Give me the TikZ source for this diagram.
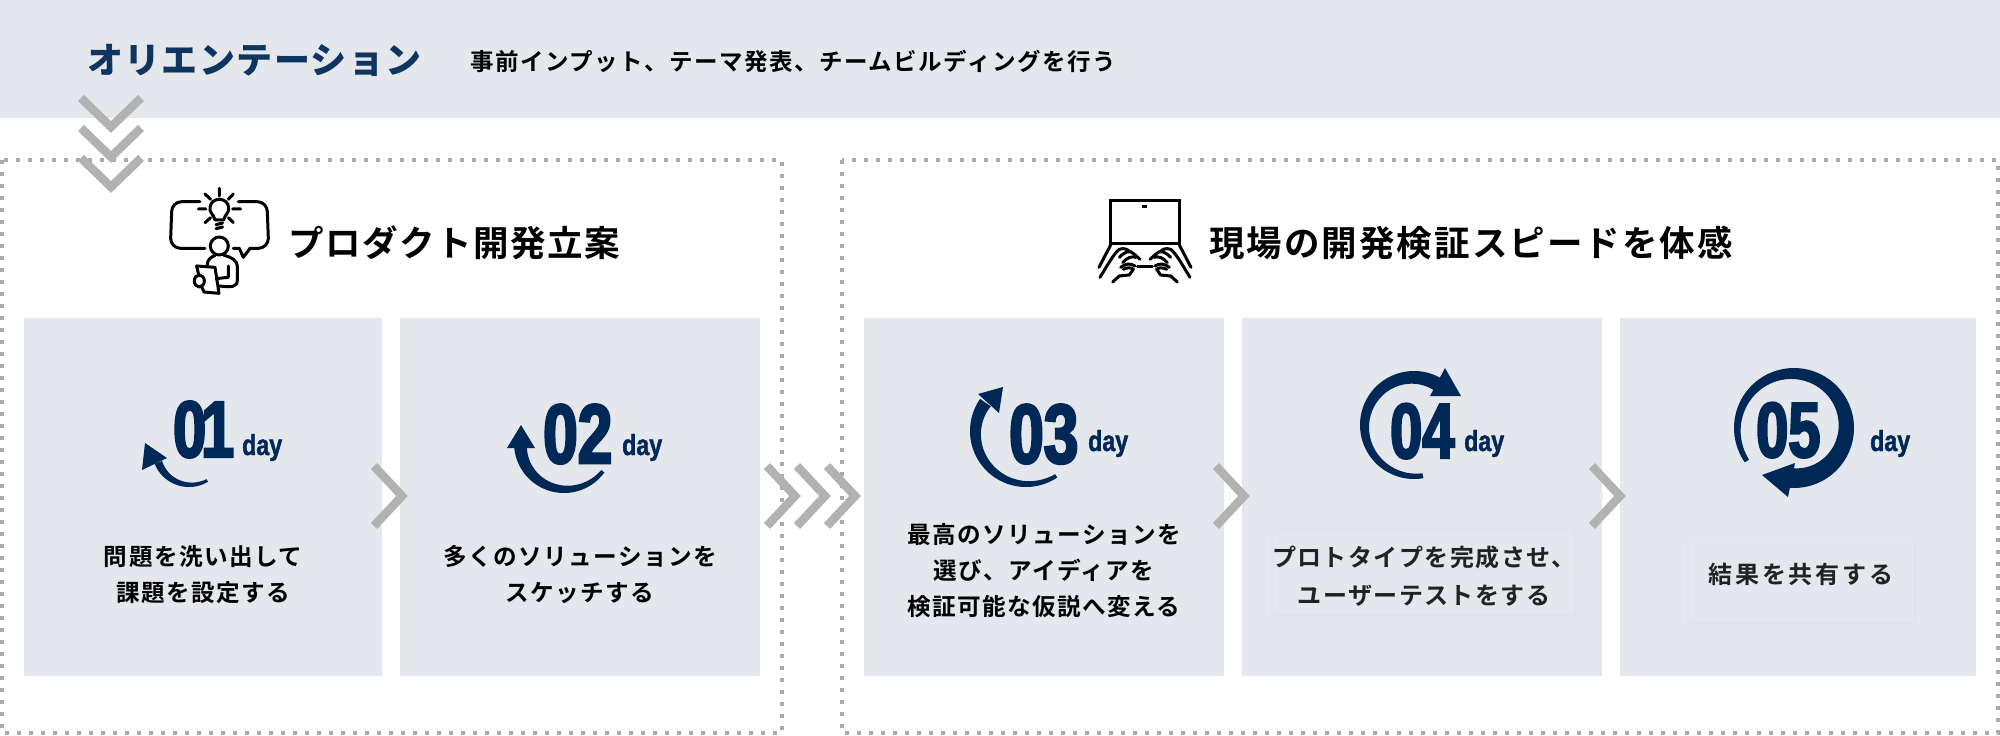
\documentclass[tikz,border=0pt]{standalone}
\usepackage{fontspec}
\setmainfont{Noto Sans CJK JP}[BoldFont=* Bold]
\newfontfamily\headfont{Noto Sans CJK JP Black}
\newfontfamily\numfont[UprightFont=* Bold,FakeStretch=0.74,FakeBold=3]{Liberation Sans}
\newfontfamily\dayfont[UprightFont=* Bold,FakeStretch=0.8,FakeBold=1.5]{Liberation Sans}
\definecolor{bandc}{HTML}{E4E7EC}
\definecolor{navy}{HTML}{002856}
\definecolor{hnavy}{HTML}{0F3460}
\definecolor{chev}{HTML}{B2B2B2}
\definecolor{dots}{HTML}{AAAAAA}
\definecolor{softk}{HTML}{222222}
\definecolor{faint}{HTML}{E1E4E9}
\newcommand{\jfs}[3]{\fontsize{#1}{#2}\selectfont\bfseries\addfontfeature{LetterSpace=#3}}
\tikzset{
  card/.style={fill=bandc,draw=none,inner sep=0pt,minimum width=#1,minimum height=358pt,anchor=north west},
  dotbox/.style={draw=dots,line width=4pt,dash pattern=on 4pt off 8pt},
  chevline/.style={draw=chev,line width=8.5pt,miter limit=10},
  body/.style={inner sep=0pt,align=center,text=black},
  softbody/.style={inner sep=0pt,align=center,text=softk},
  num/.style={inner sep=0pt,anchor=base west,text=navy,font=\numfont\fontsize{#1}{#1}\selectfont},
  daylab/.style={inner sep=0pt,anchor=base west,text=navy,font=\dayfont\fontsize{29}{29}\selectfont},
  icon/.style={draw=black,line width=3pt,line cap=round,line join=round,fill=none},
  ghost/.style={draw=faint,line width=2pt},
}
\newcommand{\crescent}[7]{%
  \fill[navy] plot[domain=#4:#5,samples=90] ({#1+#3*cos(\x)},{#2+#3*sin(\x)})
   -- plot[domain=#5:#4,samples=90] ({#1+(#3-(#6+(#7-#6)*(\x-#4)/(#5-#4)))*cos(\x)},{#2+(#3-(#6+(#7-#6)*(\x-#4)/(#5-#4)))*sin(\x)}) -- cycle;}
\newcommand{\rchev}[1]{\draw[chevline] (#1+3,466) -- (#1+31,496) -- (#1+3,526);}
\newcommand{\dchev}[1]{\draw[chevline] (81,#1+98) -- (111,#1+127) -- (141,#1+98);}
\begin{document}
\begin{tikzpicture}[x=1pt,y=-1pt]
\useasboundingbox (0,0) rectangle (2000,736);
\fill[white] (0,0) rectangle (2000,736);
\fill[bandc] (0,0) rectangle (2000,118);
% dotted frames
\draw[dotbox] (2,160) rectangle (782,733);
\draw[dotbox] (842,160) rectangle (1998,733);
% header
\node[inner sep=0pt,anchor=west,text=hnavy,font=\headfont\fontsize{36}{36}\selectfont\addfontfeature{LetterSpace=3.8}] (orient) at (87,60) {オリエンテーション};
\node[body,anchor=west,font=\jfs{23.5}{30}{6.5}] (orienttext) at (470,61) {事前インプット、テーマ発表、チームビルディングを行う};
% chevrons down
\dchev{0}
\dchev{30}
\dchev{60}
% section titles
\node[body,anchor=west,font=\jfs{35.5}{36}{4.3}] (titleA) at (288,243) {プロダクト開発立案};
\node[body,anchor=west,font=\jfs{35.5}{36}{5.8}] (titleB) at (1209,243) {現場の開発検証スピードを体感};
% cards
\node[card=358pt] (c1) at (24,318) {};
\node[card=360pt] (c2) at (400,318) {};
\node[card=360pt] (c3) at (864,318) {};
\node[card=360pt] (c4) at (1242,318) {};
\node[card=356pt] (c5) at (1620,318) {};
% faint ghost frames
\draw[ghost] (1272,530) rectangle (1575,615);
\draw[ghost] (1688,540) rectangle (1915,623);
% right chevrons
\rchev{371}
\rchev{764}
\rchev{794}
\rchev{824}
\rchev{1213}
\rchev{1589}
% 01
\crescent{189}{450}{37}{59}{158}{3}{8}
\fill[navy] (145,443) -- (142,470) -- (167,458) -- cycle;
\node[num=80] (n1) at (173,457) {0\kern-5pt 1};
\node[daylab] (d1) at (242,455) {day};
% 02
\crescent{564}{443}{50}{36}{178}{4}{13}
\fill[navy] (521,425) -- (507,448) -- (535,448) -- cycle;
\node[num=84] (n2) at (543,463) {02};
\node[daylab] (d2) at (622,455) {day};
% 03
\crescent{1026}{431}{56}{56}{215}{4}{13}
\fill[navy] (1003,387) -- (978,394) -- (999,413) -- cycle;
\node[num=84] (n3) at (1009,463) {03};
\node[daylab] (d3) at (1088,451) {day};
% 04
\crescent{1414}{425}{54}{80}{300}{5}{14}
\fill[navy] (1445,368) -- (1461,396) -- (1430,396) -- cycle;
\node[num=78] (n4) at (1390,458) {04};
\node[daylab] (d4) at (1464,451) {day};
% 05
\crescent{1794}{428}{60}{145}{455}{5}{20}
\fill[navy] (1762,475) -- (1795,463) -- (1788,497) -- cycle;
\node[num=78] (n5) at (1756,457) {05};
\node[daylab] (d5) at (1870,451) {day};
% body texts
\node[body,font=\jfs{23.6}{36}{6}] (t1) at (203,575) {問題を洗い出して\\課題を設定する};
\node[body,font=\jfs{23.6}{36}{6}] (t2) at (580,575) {多くのソリューションを\\スケッチする};
\node[body,font=\jfs{23.6}{36}{6}] (t3) at (1044,571) {最高のソリューションを\\選び、アイディアを\\検証可能な仮説へ変える};
\node[softbody,font=\jfs{24}{38}{6}] (t4) at (1424,576) {プロトタイプを完成させ、\\ユーザーテストをする};
\node[softbody,font=\jfs{24}{36}{12}] (t5) at (1801,574) {結果を共有する};
% idea icon
\begin{scope}[shift={(150,180)},x=0.3333pt,y=-0.3333pt]
 \draw[icon] (150,65) -- (95,65) arc[start angle=90,end angle=180,radius=10pt] -- (62,175) arc[start angle=180,end angle=270,radius=10pt] -- (165,205);
 \draw[icon] (265,65) -- (322,65) arc[start angle=90,end angle=0,radius=10pt] -- (355,175) arc[start angle=0,end angle=-90,radius=10pt] -- (300,205) -- (280,232) -- (268,205) -- (250,205);
 \draw[icon] (195,120) .. controls (190,100) and (178,100) .. (180,82) .. controls (183,50) and (233,50) .. (236,82) .. controls (238,100) and (226,100) .. (221,120) -- cycle;
 \draw[icon] (198,134) -- (218,129) (198,146) -- (218,141);
 \draw[icon] (208,25) -- (208,48) (165,42) -- (182,58) (250,42) -- (235,58) (145,87) -- (168,87) (248,87) -- (272,87) (165,128) -- (182,113) (250,128) -- (235,113);
 \draw[icon] (208,198) circle[radius=9pt];
 \draw[icon] (172,256) .. controls (172,235) and (185,232) .. (195,226) (222,226) .. controls (245,232) and (262,240) .. (262,262) -- (262,300) .. controls (262,322) and (245,322) .. (208,318);
 \draw[icon] (235,258) -- (235,292) -- (198,296);
 \draw[icon] (140,258) -- (195,262) -- (207,340) -- (162,336) -- (156,322);
 \draw[icon] (140,258) -- (146,284);
 \draw[icon] (148,303) ellipse[x radius=5pt,y radius=6pt];
\end{scope}
% laptop icon
\begin{scope}[shift={(1050,180)},x=0.3333pt,y=-0.3333pt]
 \draw[icon,line cap=butt,line join=miter] (182,62) rectangle (388,192);
 \fill[black] (277,76) rectangle (290,83);
 \draw[icon] (262,260) -- (307,260);
 \foreach \m in {1,-1}{
 \begin{scope}[shift={(285,0)},xscale=\m,shift={(-285,0)}]
  \draw[icon] (182,195) -- (147,262);
  \draw[icon] (150,292) .. controls (170,260) and (190,222) .. (208,208);
  \draw[icon] (208,208) .. controls (222,203) and (232,208) .. (238,214);
  \draw[icon] (208,232) .. controls (225,215) and (240,208) .. (252,222) -- (270,238);
  \draw[icon] (218,248) .. controls (232,232) and (245,228) .. (258,232);
  \draw[icon] (212,262) .. controls (225,252) and (240,248) .. (255,258);
  \draw[icon] (220,268) .. controls (232,262) and (244,262) .. (250,268) -- (238,285) -- (208,288) -- (188,306);
 \end{scope}}
\end{scope}
\end{tikzpicture}
\end{document}
